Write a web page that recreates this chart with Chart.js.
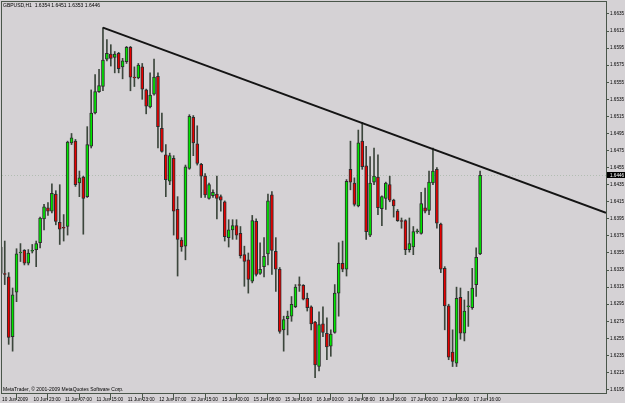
<!DOCTYPE html>
<html>
<head>
<meta charset="utf-8">
<script src="https://cdn.jsdelivr.net/npm/chart.js@4/dist/chart.umd.min.js"></script>
<style>
  html, body { margin: 0; padding: 0; background: #d5d2d5; }
  #wrap { width: 625px; height: 403px; }
</style>
</head>
<body>
<div id="wrap"><canvas id="chart" width="625" height="403"></canvas></div>
<script>
// GBPUSD H1, 10 Jun 2009 15:00 .. 17 Jun 2009 18:00
const open = [
  1.6362, 1.6331, 1.6327, 1.6257, 1.6309, 1.6355, 1.6358, 1.6343, 1.6357, 1.6359,
  1.6367, 1.6395, 1.6408, 1.6404, 1.6424, 1.6391, 1.6385, 1.6386, 1.6484, 1.6486,
  1.6437, 1.6444, 1.6421, 1.6480, 1.6519, 1.6544, 1.6550, 1.6582, 1.6588, 1.6584,
  1.6589, 1.6573, 1.6579, 1.6596, 1.6561, 1.6560, 1.6573, 1.6546, 1.6526, 1.6541,
  1.6562, 1.6501, 1.6470, 1.6439, 1.6466, 1.6406, 1.6370, 1.6363, 1.6454, 1.6514,
  1.6483, 1.6459, 1.6445, 1.6419, 1.6422, 1.6424, 1.6421, 1.6415, 1.6373, 1.6382,
  1.6387, 1.6378, 1.6353, 1.6347, 1.6322, 1.6392, 1.6331, 1.6339, 1.6354, 1.6423,
  1.6357, 1.6336, 1.6265, 1.6278, 1.6281, 1.6292, 1.6318, 1.6317, 1.6302, 1.6292,
  1.6274, 1.6222, 1.6272, 1.6261, 1.6246, 1.6262, 1.6308, 1.6343, 1.6336, 1.6453,
  1.6437, 1.6410, 1.6486, 1.6457, 1.6376, 1.6438, 1.6444, 1.6407, 1.6419, 1.6435,
  1.6417, 1.6404, 1.6393, 1.6393, 1.6359, 1.6362, 1.6380, 1.6378, 1.6408, 1.6405,
  1.6437, 1.6453, 1.6389, 1.6337, 1.6293, 1.6239, 1.6226, 1.6303, 1.6261, 1.6292,
  1.6291, 1.6318, 1.6354
];
const high = [
  1.6365, 1.6369, 1.6332, 1.6314, 1.6360, 1.6366, 1.6359, 1.6359, 1.6365, 1.6369,
  1.6397, 1.6412, 1.6414, 1.6436, 1.6428, 1.6435, 1.6400, 1.6486, 1.6495, 1.6488,
  1.6451, 1.6445, 1.6503, 1.6546, 1.6564, 1.6570, 1.6619, 1.6605, 1.6599, 1.6591,
  1.6590, 1.6583, 1.6597, 1.6597, 1.6573, 1.6577, 1.6577, 1.6547, 1.6566, 1.6582,
  1.6566, 1.6519, 1.6482, 1.6472, 1.6469, 1.6421, 1.6373, 1.6458, 1.6517, 1.6516,
  1.6504, 1.6460, 1.6448, 1.6437, 1.6429, 1.6445, 1.6423, 1.6416, 1.6394, 1.6394,
  1.6394, 1.6386, 1.6363, 1.6355, 1.6399, 1.6395, 1.6367, 1.6373, 1.6424, 1.6427,
  1.6373, 1.6338, 1.6281, 1.6287, 1.6304, 1.6318, 1.6327, 1.6318, 1.6308, 1.6293,
  1.6275, 1.6286, 1.6292, 1.6279, 1.6265, 1.6318, 1.6367, 1.6369, 1.6441, 1.6486,
  1.6443, 1.6499, 1.6508, 1.6480, 1.6468, 1.6478, 1.6470, 1.6422, 1.6438, 1.6445,
  1.6418, 1.6406, 1.6396, 1.6394, 1.6396, 1.6386, 1.6383, 1.6426, 1.6431, 1.6451,
  1.6478, 1.6455, 1.6390, 1.6339, 1.6295, 1.6265, 1.6315, 1.6314, 1.6300, 1.6310,
  1.6337, 1.6361, 1.6451
];
const low = [
  1.6300, 1.6318, 1.6248, 1.6240, 1.6298, 1.6345, 1.6341, 1.6341, 1.6355, 1.6339,
  1.6361, 1.6382, 1.6399, 1.6402, 1.6388, 1.6365, 1.6369, 1.6376, 1.6482, 1.6433,
  1.6421, 1.6377, 1.6420, 1.6478, 1.6518, 1.6543, 1.6545, 1.6580, 1.6574, 1.6566,
  1.6566, 1.6559, 1.6577, 1.6545, 1.6550, 1.6559, 1.6535, 1.6518, 1.6525, 1.6540,
  1.6478, 1.6473, 1.6421, 1.6435, 1.6376, 1.6328, 1.6357, 1.6347, 1.6453, 1.6469,
  1.6458, 1.6420, 1.6420, 1.6418, 1.6420, 1.6395, 1.6404, 1.6369, 1.6362, 1.6371,
  1.6371, 1.6349, 1.6316, 1.6308, 1.6320, 1.6328, 1.6330, 1.6327, 1.6341, 1.6330,
  1.6310, 1.6261, 1.6240, 1.6259, 1.6275, 1.6291, 1.6310, 1.6300, 1.6287, 1.6265,
  1.6209, 1.6217, 1.6257, 1.6230, 1.6234, 1.6261, 1.6281, 1.6333, 1.6328, 1.6429,
  1.6410, 1.6409, 1.6453, 1.6371, 1.6374, 1.6435, 1.6400, 1.6387, 1.6406, 1.6415,
  1.6397, 1.6392, 1.6384, 1.6353, 1.6356, 1.6353, 1.6378, 1.6377, 1.6402, 1.6400,
  1.6435, 1.6384, 1.6332, 1.6265, 1.6230, 1.6222, 1.6222, 1.6254, 1.6252, 1.6269,
  1.6289, 1.6304, 1.6353
];
const close = [
  1.6331, 1.6330, 1.6256, 1.6306, 1.6354, 1.6356, 1.6343, 1.6355, 1.6358, 1.6366,
  1.6396, 1.6409, 1.6404, 1.6425, 1.6392, 1.6383, 1.6384, 1.6485, 1.6490, 1.6435,
  1.6443, 1.6419, 1.6482, 1.6519, 1.6544, 1.6551, 1.6581, 1.6589, 1.6583, 1.6588,
  1.6571, 1.6580, 1.6596, 1.6561, 1.6560, 1.6575, 1.6547, 1.6527, 1.6540, 1.6561,
  1.6503, 1.6474, 1.6441, 1.6469, 1.6404, 1.6371, 1.6362, 1.6456, 1.6515, 1.6484,
  1.6460, 1.6445, 1.6423, 1.6435, 1.6426, 1.6419, 1.6417, 1.6374, 1.6382, 1.6387,
  1.6376, 1.6352, 1.6345, 1.6324, 1.6393, 1.6330, 1.6336, 1.6351, 1.6416, 1.6358,
  1.6336, 1.6263, 1.6277, 1.6281, 1.6295, 1.6315, 1.6317, 1.6301, 1.6291, 1.6272,
  1.6224, 1.6271, 1.6262, 1.6245, 1.6260, 1.6308, 1.6343, 1.6336, 1.6439, 1.6438,
  1.6412, 1.6484, 1.6456, 1.6380, 1.6437, 1.6445, 1.6408, 1.6421, 1.6437, 1.6417,
  1.6410, 1.6393, 1.6392, 1.6359, 1.6366, 1.6380, 1.6381, 1.6413, 1.6404, 1.6438,
  1.6451, 1.6390, 1.6336, 1.6293, 1.6233, 1.6228, 1.6302, 1.6261, 1.6287, 1.6293,
  1.6314, 1.6350, 1.6446
];

// bottom axis: one label every 8 bars
const timeTickPos = [0, 8, 16, 24, 32, 40, 48, 56, 64, 72, 80, 88, 96, 104, 112, 120];
const timeLabels = [
  '10 Jun 2009', '10 Jun 23:00', '11 Jun 07:00', '11 Jun 15:00', '11 Jun 23:00',
  '12 Jun 07:00', '12 Jun 15:00', '15 Jun 00:00', '15 Jun 08:00', '15 Jun 16:00',
  '16 Jun 00:00', '16 Jun 08:00', '16 Jun 16:00', '17 Jun 00:00', '17 Jun 08:00', '17 Jun 16:00'
];
const priceTicks = [
  1.6635, 1.6615, 1.6595, 1.6575, 1.6555, 1.6535, 1.6515, 1.6495, 1.6475, 1.6455,
  1.6435, 1.6415, 1.6395, 1.6375, 1.6355, 1.6335, 1.6315, 1.6295, 1.6275, 1.6255,
  1.6235, 1.6215, 1.6195
];

// hand drawn trend line (from the 11 Jun high)
const trendX = [26, 154.05];
const trendY = [1.6619, 1.6402];

const symbol = 'GBPUSD,H1';
const copyright = 'MetaTrader, \u00a9 2001-2009 MetaQuotes Software Corp.';

const BG = '#d5d2d5';
const FRAME = '#4a564a';
const FONT = 'Liberation Sans';

const last = close.length - 1;
const lastPrice = close[last];

const idx = open.map((_, i) => i);
const wicks = idx.map(i => ({ x: i, y: [low[i], high[i]] }));
const bodies = idx.map(i => ({ x: i, y: [open[i], close[i]] }));
const bodyColors = idx.map(i => close[i] >= open[i] ? '#00e600' : '#e60000');

const mtDecor = {
    id: 'mtDecor',
    beforeDraw(chart) {
        const c = chart.ctx;
        c.save();
        c.fillStyle = BG;
        c.fillRect(0, 0, chart.width, chart.height);
        c.restore();
    },
    beforeDatasetsDraw(chart) {
        const { ctx: c, chartArea: a } = chart;
        const y = Math.round(chart.scales.y.getPixelForValue(lastPrice)) + 0.5;
        c.save();
        c.strokeStyle = '#b2bdb2';
        c.lineWidth = 1;
        c.setLineDash([1, 2]);
        c.beginPath();
        c.moveTo(a.left, y);
        c.lineTo(a.right, y);
        c.stroke();
        c.restore();
    },
    afterDraw(chart) {
        const { ctx: c, chartArea: a } = chart;
        c.save();
        c.strokeStyle = FRAME;
        c.lineWidth = 1;
        c.strokeRect(a.left - 0.5, a.top - 0.5, a.right - a.left + 1, a.bottom - a.top + 1);

        c.fillStyle = '#000';
        c.font = '5px "' + FONT + '"';
        c.textBaseline = 'middle';
        c.textAlign = 'left';
        const ohlc = [open[last], high[last], low[last], close[last]].map(v => v.toFixed(4)).join(' ');
        c.fillText(symbol + '  ' + ohlc, 3, 5.5);
        c.fillText(copyright, 3, 390);

        // current bid label on the price scale
        const y = Math.round(chart.scales.y.getPixelForValue(lastPrice));
        c.fillStyle = '#000';
        c.fillRect(a.right + 1, y - 3, 18, 6);
        c.fillStyle = '#fff';
        c.font = '4.6px "' + FONT + '"';
        c.fillText(lastPrice.toFixed(4), a.right + 4, y + 0.5);
        c.restore();
    }
};

const ctx = document.getElementById('chart').getContext('2d');
new Chart(ctx, {
    type: 'bar',
    data: {
        datasets: [
            {
                type: 'line',
                data: trendX.map((x, i) => ({ x: x, y: trendY[i] })),
                borderColor: '#141414',
                borderWidth: 2,
                pointRadius: 0,
                order: 0
            },
            {
                data: bodies,
                backgroundColor: bodyColors,
                borderColor: '#2c2c2c',
                borderWidth: 1,
                borderSkipped: false,
                barThickness: 3,
                grouped: false,
                order: 1
            },
            {
                data: wicks,
                backgroundColor: '#3c463c',
                borderWidth: 0,
                barThickness: 1,
                grouped: false,
                order: 2
            }
        ]
    },
    options: {
        responsive: false,
        animation: false,
        events: [],
        layout: { padding: { top: 2, left: 2, right: 0, bottom: 0 } },
        plugins: {
            legend: { display: false },
            tooltip: { enabled: false }
        },
        scales: {
            x: {
                type: 'linear',
                min: 0.3,
                max: 154.05,
                offset: false,
                afterBuildTicks: s => { s.ticks = timeTickPos.map(v => ({ value: v })); },
                afterFit: s => { s.height = 10; s.paddingLeft = 0; s.paddingRight = 0; },
                ticks: {
                    autoSkip: false,
                    maxRotation: 0,
                    align: 'start',
                    padding: -3,
                    color: '#000',
                    font: { size: 4.7, family: FONT },
                    callback: (v, i) => ' ' + timeLabels[i]
                },
                grid: { drawOnChartArea: false, tickLength: 7, color: FRAME },
                border: { color: FRAME }
            },
            y: {
                position: 'right',
                min: 1.6191,
                max: 1.6649,
                afterBuildTicks: s => { s.ticks = priceTicks.map(v => ({ value: v })); },
                afterFit: s => { s.width = 19; s.paddingTop = 0; s.paddingBottom = 0; },
                ticks: {
                    padding: 1,
                    color: '#000',
                    font: { size: 4.6, family: FONT },
                    callback: v => v.toFixed(4)
                },
                grid: { drawOnChartArea: false, tickLength: 3, color: FRAME },
                border: { color: FRAME }
            }
        }
    },
    plugins: [mtDecor]
});
</script>
</body>
</html>
